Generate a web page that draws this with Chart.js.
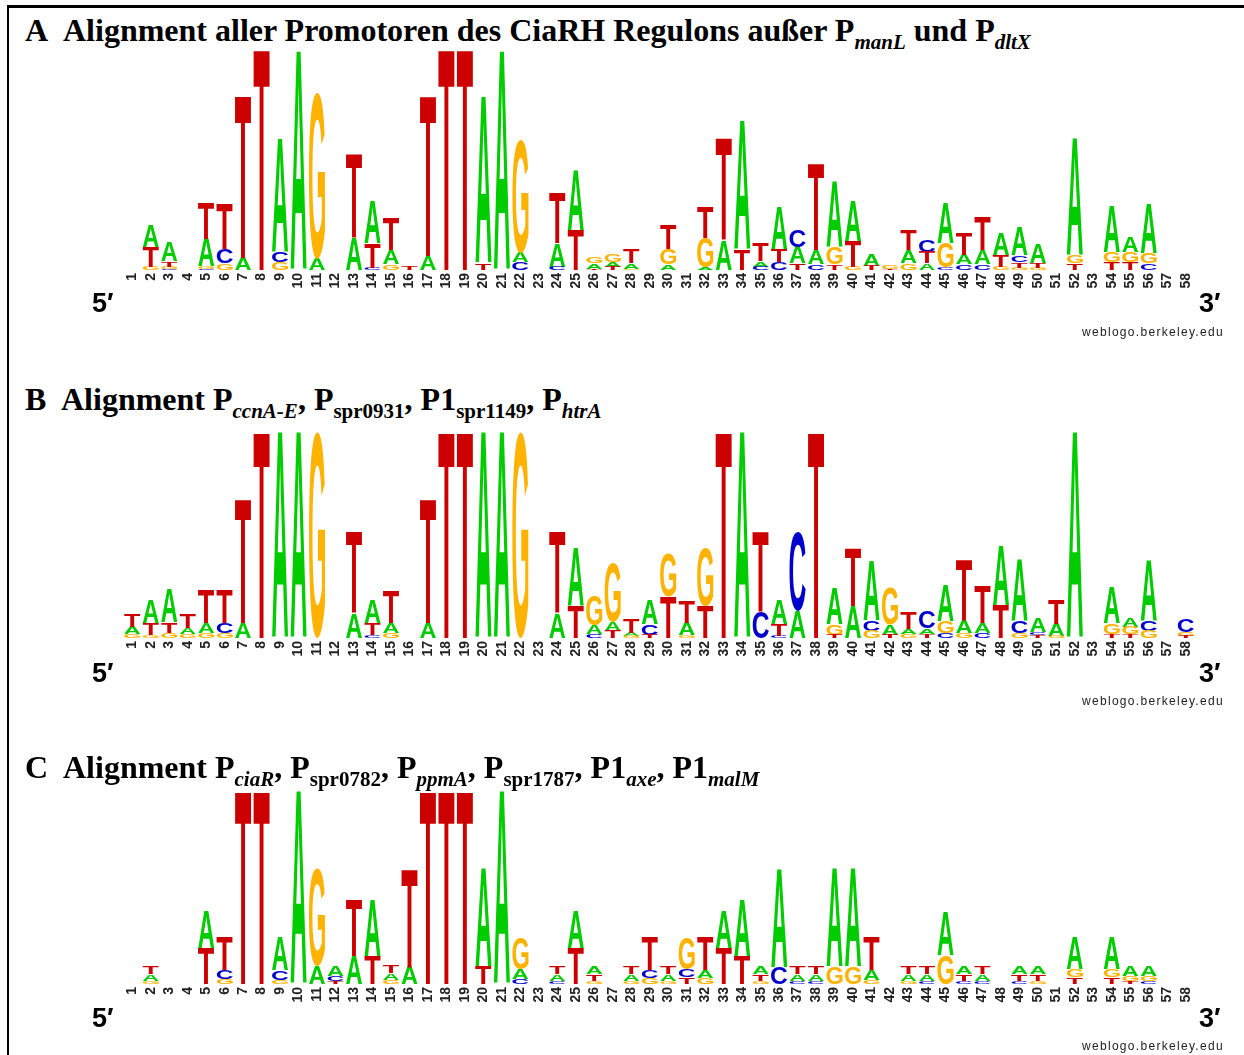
<!DOCTYPE html>
<html>
<head>
<meta charset="utf-8">
<script src="https://cdn.jsdelivr.net/npm/chart.js@4.4.1/dist/chart.umd.min.js"></script>
<style>
  html, body { margin: 0; padding: 0; background: #fff; }
  #page { position: relative; width: 1244px; height: 1055px; overflow: hidden; background: #fff; }
  .frameTop { position: absolute; left: 7px; top: 5px; width: 1237px; height: 3px; background: #000; }
  .frameLeft { position: absolute; left: 7px; top: 5px; width: 2px; height: 1050px; background: #000; }
  canvas { position: absolute; left: 0; }
  .ttl { position: absolute; font-family: "Liberation Serif", "Times New Roman", serif; font-weight: bold;
         font-size: 32px; line-height: 32px; white-space: pre; color: #000; }
  .ttl .s { position: relative; top: 8px; font-size: 21px; line-height: 0; }
  .ttl .i { font-style: italic; }
  .end { position: absolute; font-family: "Liberation Sans", Arial, sans-serif; font-weight: bold;
         font-size: 27px; line-height: 27px; color: #000; }
  .src { position: absolute; font-family: "Liberation Sans", Arial, sans-serif; font-size: 12px;
         line-height: 12px; letter-spacing: 1.3px; color: #222; }
</style>
</head>
<body>
<div id="page">
  <div class="frameTop"></div>
  <div class="frameLeft"></div>

  <div class="ttl" style="left:25px;top:14px">A</div>
  <div class="ttl" style="left:63px;top:14px">Alignment aller Promotoren des CiaRH Regulons außer P<span class="s i">manL</span> und P<span class="s i">dltX</span></div>
  <canvas id="logoA" width="1244" height="270" style="top:40px"></canvas>
  <div class="end" style="left:92px;top:290px">5′</div>
  <div class="end" style="left:1199px;top:290px">3′</div>
  <div class="src" style="left:1082px;top:326px">weblogo.berkeley.edu</div>

  <div class="ttl" style="left:25px;top:383px">B</div>
  <div class="ttl" style="left:61px;top:383px">Alignment P<span class="s i">ccnA-E</span>, P<span class="s">spr0931</span>, P1<span class="s">spr1149</span>, P<span class="s i">htrA</span></div>
  <canvas id="logoB" width="1244" height="258" style="top:420px"></canvas>
  <div class="end" style="left:92px;top:660px">5′</div>
  <div class="end" style="left:1199px;top:660px">3′</div>
  <div class="src" style="left:1082px;top:695px">weblogo.berkeley.edu</div>

  <div class="ttl" style="left:25px;top:751px">C</div>
  <div class="ttl" style="left:63px;top:751px">Alignment P<span class="s i">ciaR</span>, P<span class="s">spr0782</span>, P<span class="s i">ppmA</span>, P<span class="s">spr1787</span>, P1<span class="s i">axe</span>, P1<span class="s i">malM</span></div>
  <canvas id="logoC" width="1244" height="244" style="top:780px"></canvas>
  <div class="end" style="left:92px;top:1005px">5′</div>
  <div class="end" style="left:1199px;top:1005px">3′</div>
  <div class="src" style="left:1082px;top:1040px">weblogo.berkeley.edu</div>
</div>

<script>
// Alignment positions 1..58 (x-axis tick labels)
const positions = Array.from({ length: 58 }, (_, i) => String(i + 1));

// Information content (bits) per base and position.
// Panel A: all CiaRH regulon promoters except PmanL and PdltX
const alnA_A = [0,.20,.17,0,.25,0,.11,0,1.03,1.98, .10,0,.29,.38,.13,0,.13,0,0,1.51,
                1.98,.09,0,.21,.55,.05,.04,.05,0,.05, 0,.02,.27,1.17,.05,.40,.15,.13,.60,.36,
                .10,0,.12,.06,.36,.09,.13,.20,.25,.17, 0,1.06,0,.42,.14,.44,0,0];
const alnA_C = [0,0,.01,0,.01,.13,0,0,.09,0, 0,0,0,.02,0,0,0,0,0,0,
                0,.07,0,.03,0,0,0,0,0,0, 0,0,0,0,.03,.07,.16,.05,0,0,
                0,0,0,.11,.02,.05,.05,0,.06,0, 0,0,0,0,0,.06,0,0];
const alnA_G = [0,.03,.02,0,.02,.06,0,0,.07,0, 1.50,0,0,0,.05,0,0,0,0,0,
                0,1.02,0,0,0,.06,.07,.01,0,.14, 0,.27,0,0,0,0,0,0,.15,.03,
                0,.03,.06,0,.22,0,0,.03,.02,.02, 0,.07,0,.09,.09,.09,0,0];
const alnA_T = [0,.18,.05,0,.33,.41,1.47,2.0,0,0, 0,0,.76,.22,.29,.03,1.45,2.0,2.0,.06,
                0,0,0,.45,.36,.01,.03,.13,0,.22, 0,.28,.92,.18,.16,.11,.06,.78,.05,.23,
                .04,.01,.19,.10,0,.20,.30,.10,.05,.04, 0,.06,0,.07,.07,0,0,0];

// Panel B: PccnA-E, Pspr0931, P1spr1149, PhtrA
const alnB_A = [.07,.22,.32,.06,.10,0,.15,0,2.0,2.0, 0,0,.24,.22,.10,0,.15,0,0,2.0,
                2.0,0,0,.24,.56,.08,.09,.03,.23,0, .12,0,0,2.0,0,.23,.26,0,.35,.31,
                .57,.10,.05,.05,.35,.12,.10,.57,.60,.13, .12,2.0,0,.35,.08,.59,0,0];
const alnB_C = [0,0,0,0,0,.10,0,0,0,0, 0,0,0,.03,0,0,0,0,0,0,
                0,0,0,0,0,.04,0,0,.10,0, 0,0,0,0,.26,.02,.77,0,0,0,
                .10,0,0,.16,.05,0,.05,0,.11,.03, 0,0,0,0,0,.10,0,.13];
const alnB_G = [.04,.03,.05,.04,.05,.05,0,0,0,0, 2.0,0,0,0,.05,0,0,0,0,0,
                0,2.0,0,0,0,.29,.57,.02,0,.42, .03,.56,0,0,0,0,0,0,.10,0,
                .07,.36,.04,0,.11,.05,0,0,.05,0, .02,0,0,.10,.07,.07,0,.04];
const alnB_T = [.12,.11,.10,.13,.32,.32,1.20,2.0,0,0, 0,0,.79,.11,.31,0,1.20,2.0,2.0,0,
                0,0,0,.79,.31,0,.07,.13,.03,.40, .21,.31,2.0,0,.77,.11,0,2.0,.03,.56,
                0,.03,.16,.04,0,.59,.36,.32,0,.025, .23,0,0,.04,.04,0,0,.02];

// Panel C: PciaR, Pspr0782, PppmA, Pspr1787, P1axe, P1malM
const alnC_A = [0,.07,0,0,.38,0,0,0,.34,2.0, .18,.10,.29,.59,.07,.18,0,0,0,1.01,
                2.0,.10,0,.07,.38,.08,0,.07,0,.07, 0,.08,.38,.59,.08,1.02,.07,.07,1.01,1.01,
                .10,0,.07,.07,.45,.08,.07,0,.08,.08, 0,.33,0,.33,.10,.10,0,0];
const alnC_C = [0,0,0,0,0,.09,0,0,.10,0, 0,.05,0,0,0,0,0,0,0,0,
                0,.05,0,.03,0,0,0,0,.08,0, .08,0,0,0,0,.17,.03,.03,0,0,
                0,0,0,.03,0,.03,.03,0,.03,0, 0,0,0,0,0,.03,0,0];
const alnC_G = [0,.03,0,0,0,.05,0,0,.04,0, 1.01,0,0,0,.04,0,0,0,0,0,
                0,.33,0,0,0,.03,0,.03,.06,.03, .32,.06,0,0,.03,0,0,0,.18,.18,
                .04,0,.03,0,.30,0,0,0,0,.03, 0,.08,0,.08,.05,.05,0,0];
const alnC_T = [0,.08,0,0,.37,.34,2.0,2.0,0,0, 0,.03,.59,.29,.08,1.01,2.0,2.0,2.0,.18,
                0,0,0,.08,.37,.07,0,.08,.34,.08, .07,.34,.37,.29,.07,0,.08,.08,0,0,
                .34,0,.08,.08,0,.07,.08,0,.07,.07, 0,.07,0,.07,.03,0,0,0];

const BASES = ['A', 'C', 'G', 'T'];
const BASE_COLORS = { A: '#00cc00', C: '#0000cc', G: '#ffb300', T: '#cc0000' };

// Each column is stacked with the smallest letter at the bottom; every letter
// becomes a floating bar [start, end] in bits.
function stackColumns(series) {
  const ranges = { A: [], C: [], G: [], T: [] };
  for (let i = 0; i < positions.length; i++) {
    const order = BASES.slice().sort((a, b) => series[a][i] - series[b][i]);
    let base = 0;
    BASES.forEach(b => { ranges[b][i] = null; });
    order.forEach(b => {
      const h = series[b][i];
      if (h > 0) { ranges[b][i] = [base, base + h]; base += h; }
    });
  }
  return ranges;
}

// Glyph metrics of the letters, used to stretch each letter into its bar.
const glyphCache = {};
function glyphMetrics(ctx, letter) {
  if (!glyphCache[letter]) {
    ctx.save();
    ctx.font = 'bold 200px "Liberation Sans", Arial, sans-serif';
    const m = ctx.measureText(letter);
    ctx.restore();
    glyphCache[letter] = {
      left: m.actualBoundingBoxLeft, right: m.actualBoundingBoxRight,
      asc: m.actualBoundingBoxAscent, desc: m.actualBoundingBoxDescent
    };
  }
  return glyphCache[letter];
}

const letterGlyphs = {
  id: 'letterGlyphs',
  afterDatasetsDraw(chart) {
    const ctx = chart.ctx;
    chart.data.datasets.forEach((ds, di) => {
      const meta = chart.getDatasetMeta(di);
      const letter = ds.label;
      const g = glyphMetrics(ctx, letter);
      const gw = g.left + g.right, gh = g.asc + g.desc;
      meta.data.forEach((bar, j) => {
        if (ds.data[j] == null) return;
        const p = bar.getProps(['x', 'y', 'base', 'width'], true);
        const top = Math.min(p.y, p.base);
        const h = Math.abs(p.base - p.y);
        if (h < 0.3) return;
        ctx.save();
        ctx.translate(p.x - p.width / 2, top);
        ctx.scale(p.width / gw, h / gh);
        ctx.font = 'bold 200px "Liberation Sans", Arial, sans-serif';
        ctx.fillStyle = ds.letterColor;
        ctx.textAlign = 'left';
        ctx.textBaseline = 'alphabetic';
        ctx.fillText(letter, g.left, g.asc);
        ctx.restore();
      });
    });
  }
};

function drawLogo(canvasId, series, padTop) {
  const ranges = stackColumns(series);
  new Chart(document.getElementById(canvasId), {
    type: 'bar',
    data: {
      labels: positions,
      datasets: BASES.map(b => ({
        label: b,
        data: ranges[b],
        letterColor: BASE_COLORS[b],
        backgroundColor: 'rgba(0,0,0,0)',
        borderWidth: 0,
        grouped: false,
        barPercentage: 0.87,
        categoryPercentage: 1.0
      }))
    },
    options: {
      responsive: false,
      animation: false,
      devicePixelRatio: 1,
      layout: { padding: { left: 123, right: 49, top: padTop, bottom: 0 } },
      plugins: { legend: { display: false }, tooltip: { enabled: false }, title: { display: false } },
      scales: {
        x: {
          grid: { display: false, drawTicks: false },
          border: { display: false },
          ticks: {
            autoSkip: false, maxRotation: 90, minRotation: 90, padding: 3,
            color: '#222',
            font: { family: '"Liberation Sans", Arial, sans-serif', size: 14, weight: 'bold' }
          },
          afterFit(scale) { scale.height = 40; }
        },
        y: { display: false, min: 0, max: 2 }
      }
    },
    plugins: [letterGlyphs]
  });
}

drawLogo('logoA', { A: alnA_A, C: alnA_C, G: alnA_G, T: alnA_T }, 9);
drawLogo('logoB', { A: alnB_A, C: alnB_C, G: alnB_G, T: alnB_T }, 12);
drawLogo('logoC', { A: alnC_A, C: alnC_C, G: alnC_G, T: alnC_T }, 11);
</script>
</body>
</html>
